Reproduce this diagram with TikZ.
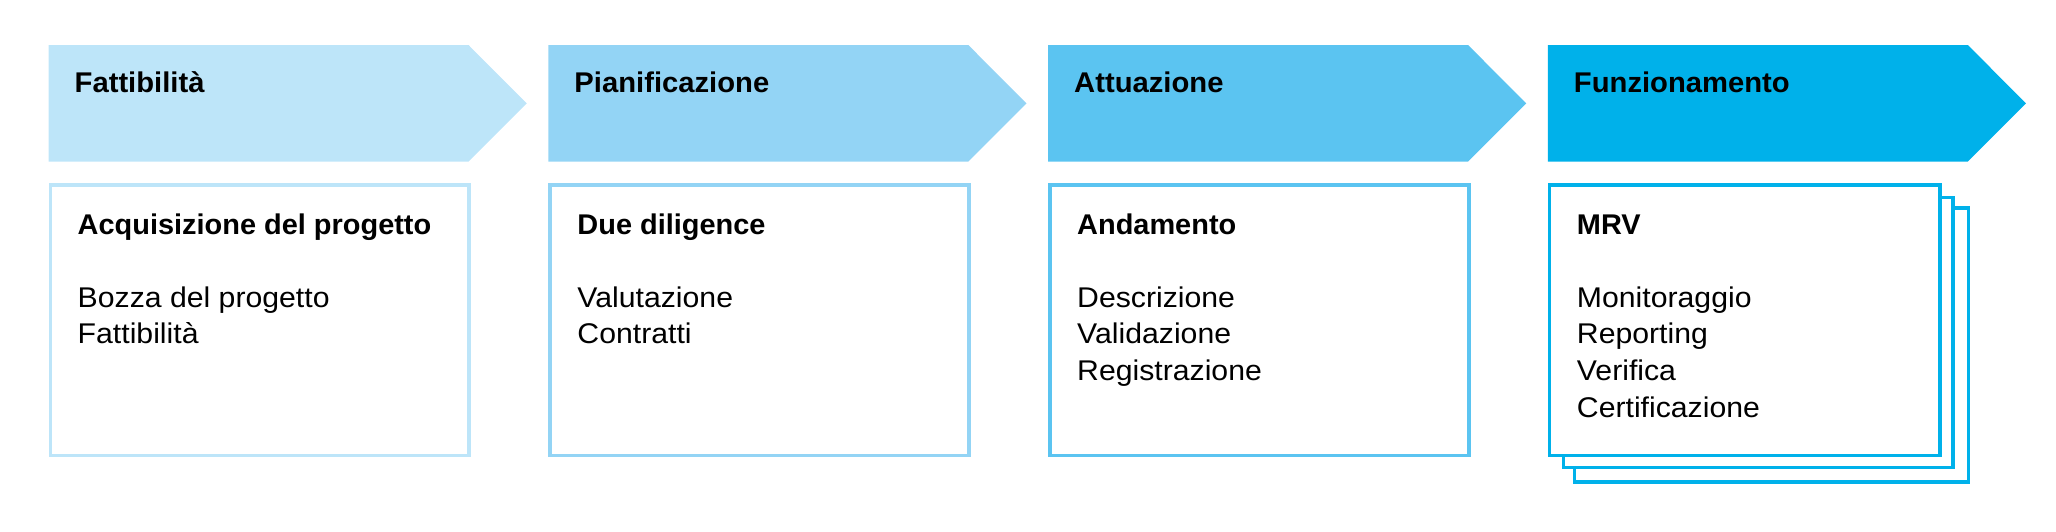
\documentclass[tikz,border=0pt]{standalone}
\usepackage{fontspec}
\setmainfont{Liberation Sans}
\newfontfamily\itemfont[FakeStretch=1.06]{Liberation Sans}
\newfontfamily\headfont[FakeStretch=1.015]{Liberation Sans}
\newfontfamily\titlefont[FakeStretch=1.025]{Liberation Sans}
\definecolor{cA}{HTML}{BDE5F9}
\definecolor{cB}{HTML}{93D4F5}
\definecolor{cC}{HTML}{5BC4F1}
\definecolor{cD}{HTML}{00B1EA}
\begin{document}
\begin{tikzpicture}[x=1pt,y=-1pt,
  phasetitle/.style={anchor=base west, inner sep=0pt, text=black, font=\fontsize{28.5}{34}\titlefont\bfseries},
  boxhead/.style={anchor=base west, inner sep=0pt, text=black, font=\fontsize{28.5}{34}\headfont\bfseries},
  boxitem/.style={anchor=base west, inner sep=0pt, text=black, font=\fontsize{28.5}{34}\itemfont},
  card/.style={draw=#1, line width=3.8pt, fill=white}]
\useasboundingbox (0,0) rectangle (2056,531);

% chevrons
\fill[cA] (48.5,45) -- (468.5,45) -- (526.8,103.35) -- (468.5,161.7) -- (48.5,161.7) -- cycle;
\fill[cB] (548.25,45) -- (968.25,45) -- (1026.55,103.35) -- (968.25,161.7) -- (548.25,161.7) -- cycle;
\fill[cC] (1048,45) -- (1468,45) -- (1526.3,103.35) -- (1468,161.7) -- (1048,161.7) -- cycle;
\fill[cD] (1547.75,45) -- (1967.75,45) -- (2026.05,103.35) -- (1967.75,161.7) -- (1547.75,161.7) -- cycle;

% cards
\draw[card=cA] (50.4,185.2) rectangle (469.3,455.4);
\draw[card=cB] (550.15,185.2) rectangle (969.05,455.4);
\draw[card=cC] (1049.9,185.2) rectangle (1468.8,455.4);
\draw[card=cD, line width=3.5pt] (1574.5,207.8) rectangle (1968.5,482.2);
\draw[card=cD, line width=3.5pt] (1563.5,197.5) rectangle (1953.2,467.7);
\draw[card=cD, line width=3.5pt] (1549.5,185.1) rectangle (1939.9,455.5);

% phase titles
\node[phasetitle] (t1) at (74.5,92.7) {Fattibilità};
\node[phasetitle] (t2) at (574.25,92.7) {Pianificazione};
\node[phasetitle] (t3) at (1074,92.7) {Attuazione};
\node[phasetitle] (t4) at (1573.75,92.7) {Funzionamento};

% card 1
\node[boxhead] (h1) at (77.5,234) {Acquisizione del progetto};
\node[boxitem] (a1) at (77.5,307.2) {Bozza del progetto};
\node[boxitem] (a2) at (77.5,343.8) {Fattibilità};

% card 2
\node[boxhead] (h2) at (577.25,234) {Due diligence};
\node[boxitem] (b1) at (577.25,307.2) {Valutazione};
\node[boxitem] (b2) at (577.25,343.8) {Contratti};

% card 3
\node[boxhead] (h3) at (1077,234) {Andamento};
\node[boxitem] (c1) at (1077,307.2) {Descrizione};
\node[boxitem] (c2) at (1077,343.8) {Validazione};
\node[boxitem] (c3) at (1077,380.4) {Registrazione};

% card 4
\node[boxhead] (h4) at (1576.75,234) {MRV};
\node[boxitem] (d1) at (1576.75,307.2) {Monitoraggio};
\node[boxitem] (d2) at (1576.75,343.8) {Reporting};
\node[boxitem] (d3) at (1576.75,380.4) {Verifica};
\node[boxitem] (d4) at (1576.75,417) {Certificazione};
\end{tikzpicture}
\end{document}
